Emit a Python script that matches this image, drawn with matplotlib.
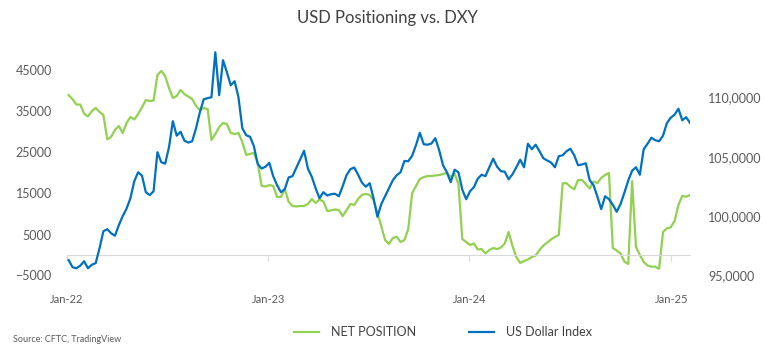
import matplotlib
matplotlib.use("Agg")
import matplotlib.pyplot as plt
import matplotlib.dates as mdates
from matplotlib.ticker import FuncFormatter
import pandas as pd

plt.rcParams['font.family'] = ['Lato', 'DejaVu Sans']

# weekly observations, first Tuesday of 2022 onwards
dates = pd.date_range('2022-01-04', periods=162, freq='7D')

# CFTC USD net position (contracts)
net_position = [
    39000, 38000, 36700, 36700, 34500, 33800, 35100, 35850, 34900, 34150,
    28200, 28800, 30500, 31450, 29750, 32200, 33650, 33050, 34400, 36000,
    37800, 37550, 37700, 43900, 44900, 43650, 40700, 38300, 38800, 40250,
    39250, 38650, 38050, 36350, 35350, 35850, 35600, 28050, 29500, 31200,
    32200, 31950, 29750, 29500, 29750, 27550, 24400, 24650, 24900, 22400,
    16850, 16700, 17050, 16850, 14150, 14150, 16100, 12950, 11950, 11850,
    11950, 11950, 12450, 13650, 12700, 13550, 13050, 10750, 10850, 11100,
    10950, 9500, 10950, 12450, 12200, 13650, 14650, 14900, 14650, 13400,
    10250, 7050, 3650, 2700, 4150, 4450, 3150, 3650, 6350, 15100,
    16850, 18550, 19000, 19250, 19250, 19400, 19500, 19750, 20000, 19000,
    19900, 17300, 3900, 3150, 2450, 2800, 1350, 1450, 400, 1200,
    1700, 1450, 1800, 2800, 5600, 2200, -500, -1950, -1450, -1100,
    -500, -100, 1200, 2300, 3050, 3800, 4400, 4900, 17500, 17500,
    16650, 16000, 18300, 18300, 17300, 16200, 17900, 17550, 18800, 19500,
    20000, 1700, 1100, 350, -1600, -2200, 18050, 1950, 0, -1700,
    -2550, -2850, -2850, -3350, 5600, 6500, 6750, 8300, 12200, 14400,
    14200, 14650,
]

# US Dollar Index (DXY)
dollar_index = [
    96.29, 95.70, 95.61, 95.83, 96.20, 95.61, 95.91, 96.04, 97.30, 98.73,
    98.90, 98.56, 98.35, 99.24, 100.00, 100.63, 101.51, 102.94, 103.70, 103.41,
    102.02, 101.77, 102.10, 105.39, 104.55, 104.42, 105.81, 108.00, 106.78, 107.11,
    106.36, 106.20, 106.31, 107.41, 108.76, 109.85, 109.94, 110.02, 113.81, 110.19,
    113.14, 112.13, 111.03, 111.37, 110.02, 107.41, 106.82, 106.69, 105.89, 104.38,
    104.01, 104.17, 104.49, 103.37, 102.61, 102.02, 102.27, 103.26, 103.37, 104.08,
    104.80, 105.51, 104.00, 103.32, 102.35, 101.51, 102.02, 101.74, 101.85, 101.89,
    101.68, 102.52, 103.45, 103.96, 104.10, 103.49, 102.82, 102.48, 102.78, 101.51,
    99.95, 101.01, 101.68, 102.35, 103.03, 103.45, 103.70, 104.65, 104.63, 105.09,
    105.98, 107.03, 106.06, 106.02, 106.12, 106.57, 105.56, 104.29, 103.70, 102.86,
    103.91, 103.70, 102.23, 101.43, 102.10, 102.44, 103.16, 103.49, 103.37, 104.12,
    104.84, 104.17, 103.79, 103.74, 103.11, 103.53, 104.12, 104.76, 104.12, 106.10,
    105.64, 106.02, 105.47, 104.88, 104.69, 104.52, 104.12, 105.05, 105.13, 105.47,
    105.68, 105.13, 104.29, 104.35, 104.46, 103.03, 102.61, 101.64, 100.59, 101.68,
    101.43, 100.96, 100.37, 101.01, 101.98, 103.00, 103.83, 104.12, 103.49, 105.64,
    106.10, 106.61, 106.40, 106.31, 106.78, 107.83, 108.29, 108.55, 109.05, 108.08,
    108.34, 107.86,
]

left_ticks = [-5000, 5000, 15000, 25000, 35000, 45000]
right_ticks = [95, 100, 105, 110]

GREEN = '#92D050'
BLUE = '#0070C0'
TEXT = '#595959'

fig = plt.figure(figsize=(7.74, 3.6), dpi=100)
ax = fig.add_axes([67 / 774, 1 - 275.5 / 360, 623 / 774, 225.5 / 360])
ax2 = ax.twinx()

ax.plot(dates, net_position, color=GREEN, lw=1.6, solid_joinstyle='round')
ax2.plot(dates, dollar_index, color=BLUE, lw=1.6, solid_joinstyle='round')

ax.set_xlim(pd.Timestamp('2022-01-01'), dates[-1])
ax.set_ylim(-5000, 50000)
ax2.set_ylim(95, 114)

ax.set_yticks(left_ticks)
ax2.set_yticks(right_ticks)
ax2.yaxis.set_major_formatter(FuncFormatter(lambda v, p: f"{v:.4f}".replace('.', ',')))

ax.xaxis.set_major_locator(mdates.YearLocator())
ax.xaxis.set_major_formatter(mdates.DateFormatter('%b-%y'))

for a in (ax, ax2):
    for s in a.spines.values():
        s.set_visible(False)
ax.spines['bottom'].set_visible(True)
ax.spines['bottom'].set_position(('data', 0))
ax.spines['bottom'].set_color('#D9D9D9')

ax.tick_params(axis='y', length=0, pad=11, labelsize=9, labelcolor=TEXT)
ax2.tick_params(axis='y', length=0, pad=13, labelsize=9, labelcolor=TEXT)
ax.tick_params(axis='x', length=4, color='#D9D9D9', pad=24, labelsize=8, labelcolor=TEXT)

fig.text(0.5, 1 - 18 / 360, 'USD Positioning vs. DXY', ha='center', va='center',
         fontsize=12, color='#404040')
fig.text(13 / 774, 1 - 340 / 360, 'Source: CFTC, TradingView', ha='left', va='center',
         fontsize=6.5, color=TEXT)

handles = [ax.lines[0], ax2.lines[0]]
fig.legend(handles, ['NET POSITION', 'US Dollar Index'], loc='center',
           bbox_to_anchor=(443 / 774, 1 - 332 / 360), ncol=2, frameon=False,
           fontsize=9, handlelength=2.0, handletextpad=1.0, columnspacing=4.2,
           labelcolor='#404040')

fig.savefig('out.png', dpi=100)
